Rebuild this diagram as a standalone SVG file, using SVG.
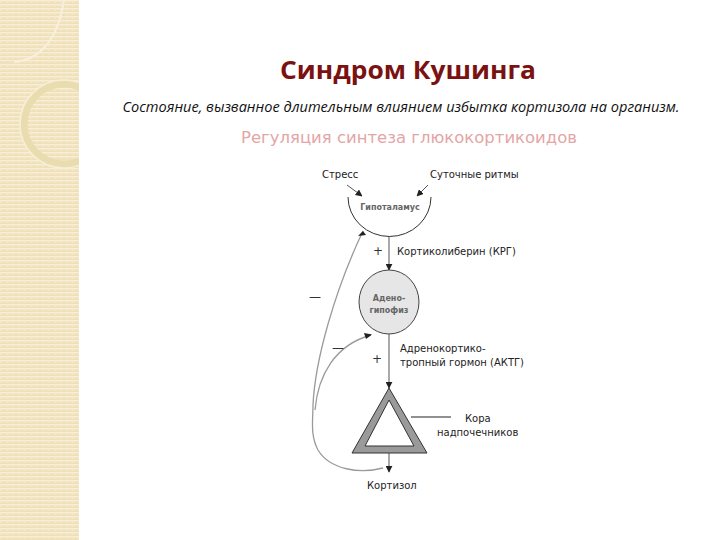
<svg xmlns="http://www.w3.org/2000/svg" width="720" height="540" viewBox="0 0 720 540">
<style>
.lbl{font-family:"DejaVu Sans","Liberation Sans",sans-serif;font-size:10px;fill:#222}
.in{font-family:"DejaVu Sans","Liberation Sans",sans-serif;font-size:8px;font-weight:bold;fill:#666;text-anchor:middle}
.fb{fill:none;stroke:#9a9a9a;stroke-width:1.3}
.ln{fill:none;stroke:#555;stroke-width:1}
.sgn{font-family:"DejaVu Sans","Liberation Sans",sans-serif;font-size:12px;fill:#333;text-anchor:middle}
</style>
<defs>
<pattern id="stripes" width="6" height="4" patternUnits="userSpaceOnUse">
<rect width="6" height="4" fill="#efe0b9"/>
<rect y="0" width="6" height="1.5" fill="#f7eed6"/>
<rect x="0" y="2" width="2" height="1" fill="#f3e7c8"/>
</pattern>
<clipPath id="clipL"><rect width="79" height="540"/></clipPath>
<marker id="ah" viewBox="0 0 10 10" refX="9" refY="5" markerWidth="7" markerHeight="7" orient="auto-start-reverse" markerUnits="userSpaceOnUse">
<path d="M0,0 L10,5 L0,10 Z" fill="#222"/>
</marker>
</defs>
<rect width="720" height="540" fill="#ffffff"/>
<g id="decor">
<rect x="0" y="0" width="79" height="540" fill="url(#stripes)"/>
<g clip-path="url(#clipL)" fill="none">
<path d="M0,62 L14,62 Q55,58 64,0" stroke="#f8f0dc" stroke-width="2"/>
<path d="M0,62 L14,62" stroke="#e2d2a8" stroke-width="1"/>
<circle cx="64" cy="124" r="40" stroke="#e9dcae" stroke-width="7"/>
<circle cx="64" cy="124" r="44" stroke="#f6eed6" stroke-width="1.5"/>
</g>
</g>
<g id="title">
<text x="408" y="79" text-anchor="middle" font-family="'Open Sans','Noto Sans',sans-serif" font-weight="bold" font-size="25" fill="#7a1212" textLength="256" lengthAdjust="spacingAndGlyphs">Синдром Кушинга</text>
<text x="401" y="112" text-anchor="middle" font-family="'Open Sans','Noto Sans',sans-serif" font-style="italic" font-size="14" fill="#111" textLength="557" lengthAdjust="spacingAndGlyphs">Состояние, вызванное длительным влиянием избытка кортизола на организм.</text>
<text x="409" y="143" text-anchor="middle" font-family="'DejaVu Sans',sans-serif" font-size="15" fill="#e3a6a6" textLength="336" lengthAdjust="spacingAndGlyphs">Регуляция синтеза глюкокортикоидов</text>
</g>
<g id="connectors">
<line class="ln" x1="347" y1="185" x2="362" y2="196" marker-end="url(#ah)"/>
<line class="ln" x1="428" y1="185" x2="417" y2="196" marker-end="url(#ah)"/>
<line class="ln" x1="389" y1="236" x2="389" y2="270" marker-end="url(#ah)"/>
<line class="ln" x1="389" y1="334" x2="389" y2="388" marker-end="url(#ah)"/>
<line class="ln" x1="389" y1="452" x2="389" y2="472" marker-end="url(#ah)"/>
<line x1="411" y1="417" x2="451" y2="417" stroke="#222" stroke-width="1"/>
<path class="fb" d="M383,468 C360,474 330,470 318,450 C310,435 313,420 313,405 C315,360 335,290 363,231"/>
<path d="M363,231 L358,236 L366,235 Z" fill="#222"/>
<path class="fb" d="M315,410 C318,375 335,345 371,335"/>
<path d="M372,334.5 L364,333 L366,339 Z" fill="#222"/>
</g>
<g id="stress">
<text class="lbl" x="322" y="178">Стресс</text>
</g>
<g id="rhythms">
<text class="lbl" x="430" y="178">Суточные ритмы</text>
</g>
<g id="hypothalamus">
<path d="M348,197 A41,39 0 0 0 431,197" fill="#ffffff" stroke="#333" stroke-width="1"/>
<text class="in" x="390" y="210">Гипоталамус</text>
</g>
<g id="crh-label">
<text class="sgn" x="378" y="255">+</text>
<text class="lbl" x="397" y="255">Кортиколиберин (КРГ)</text>
</g>
<g id="adenohypophysis">
<ellipse cx="389" cy="302" rx="30" ry="32" fill="#e6e6e6" stroke="#444" stroke-width="1"/>
<text class="in" x="389" y="301">Адено-</text>
<text class="in" x="389" y="313">гипофиз</text>
</g>
<g id="acth-label">
<text class="sgn" x="377" y="363">+</text>
<text class="lbl" x="400" y="352">Адренокортико-</text>
<text class="lbl" x="400" y="366">тропный гормон (АКТГ)</text>
</g>
<g id="adrenal">
<polygon points="389,388 352,453 427,453" fill="#9a9a9a" stroke="#333" stroke-width="1"/>
<polygon points="389,400 365,446 414,446" fill="#ffffff" stroke="#333" stroke-width="1"/>
<text class="lbl" x="465" y="422">Кора</text>
<text class="lbl" x="437" y="436">надпочечников</text>
</g>
<g id="cortisol">
<text class="lbl" x="367" y="489">Кортизол</text>
</g>
<g id="signs">
<text class="sgn" x="315" y="301">—</text>
<text class="sgn" x="338" y="352">—</text>
</g>
</svg>
